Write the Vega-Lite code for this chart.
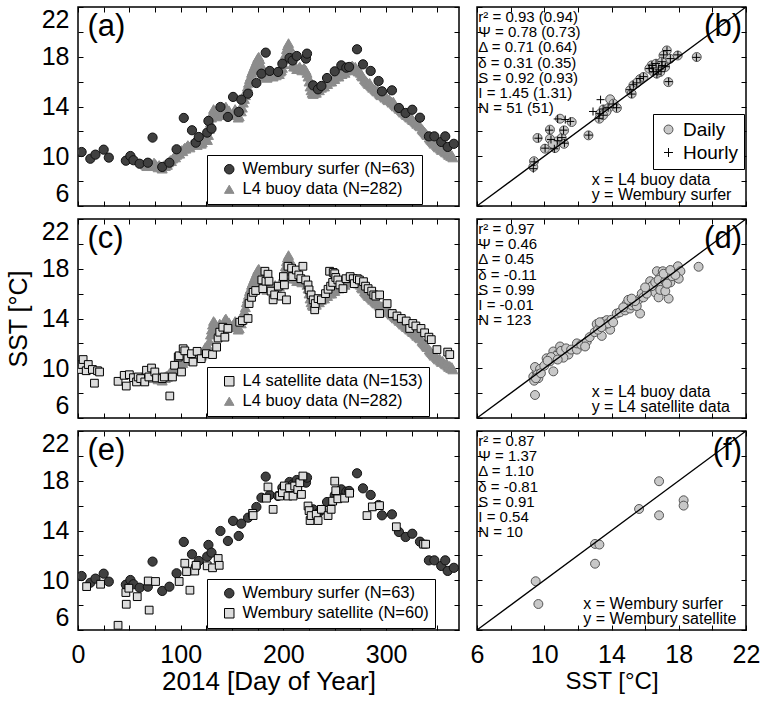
{
"$schema":"https://vega.github.io/schema/vega-lite/v6.json",
"padding":{"left":5,"top":5,"right":0,"bottom":0},
"config":{
 "font":"Liberation Sans",
 "view":{"stroke":"black","strokeWidth":1.5},
 "axis":{"domain":false,"grid":false,"labelFont":"Liberation Sans","labelFontSize":25,"labelColor":"black","titleFont":"Liberation Sans","titleFontSize":24,"titleFontWeight":"normal","titleColor":"black","tickColor":"black","tickWidth":1,"tickSize":-5,"labelOverlap":false,"labelFlush":false,"labelBound":false,"minExtent":0},
 "axisX":{"minExtent":0,"labelFlush":false},"axisY":{"minExtent":0,"labelFlush":true},
 "legend":{"labelFont":"Liberation Sans","labelColor":"black","strokeColor":"black","fillColor":"white","symbolStrokeWidth":1,"labelLimit":400}
},
"datasets":{
"buoy":[{"d":65,"t":9.4},{"d":66,"t":9.3},{"d":67,"t":9.2},{"d":68,"t":9.4},{"d":69,"t":9.5},{"d":70,"t":9.3},{"d":71,"t":9.4},{"d":72,"t":9.2},{"d":73,"t":9.3},{"d":74,"t":9.5},{"d":75,"t":9.4},{"d":76,"t":9.3},{"d":77,"t":9.2},{"d":78,"t":9.1},{"d":79,"t":9.3},{"d":80,"t":9.2},{"d":81,"t":9.1},{"d":82,"t":9.0},{"d":83,"t":9.2},{"d":84,"t":9.3},{"d":85,"t":9.2},{"d":86,"t":9.4},{"d":87,"t":9.3},{"d":88,"t":9.5},{"d":89,"t":9.6},{"d":90,"t":9.7},{"d":91,"t":9.6},{"d":92,"t":9.8},{"d":93,"t":9.9},{"d":94,"t":10.0},{"d":95,"t":9.9},{"d":96,"t":10.1},{"d":97,"t":10.2},{"d":98,"t":10.3},{"d":99,"t":10.2},
{"d":101,"t":10.5},{"d":102,"t":10.4},{"d":103,"t":10.6},{"d":104,"t":10.7},{"d":105,"t":10.6},{"d":106,"t":10.8},{"d":107,"t":10.9},{"d":108,"t":10.8},{"d":109,"t":10.7},{"d":110,"t":10.9},{"d":111,"t":11.0},
{"d":113,"t":11.1},{"d":114,"t":11.2},{"d":115,"t":11.0},{"d":116,"t":10.9},{"d":117,"t":11.1},{"d":118,"t":11.3},{"d":119,"t":11.2},{"d":120,"t":11.0},{"d":121,"t":11.1},{"d":122,"t":11.3},{"d":123,"t":11.5},{"d":124,"t":11.7},{"d":125,"t":11.4},{"d":126,"t":11.3},{"d":127,"t":11.7},{"d":128,"t":12.2},{"d":129,"t":12.7},{"d":130,"t":13.1},{"d":131,"t":13.5},{"d":132,"t":13.8},{"d":133,"t":13.7},{"d":134,"t":13.4},{"d":135,"t":13.2},{"d":136,"t":13.3},
{"d":138,"t":13.6},{"d":139,"t":13.4},{"d":140,"t":13.3},{"d":141,"t":13.5},{"d":142,"t":13.7},{"d":143,"t":13.9},{"d":144,"t":14.0},{"d":145,"t":13.8},{"d":146,"t":13.6},{"d":147,"t":13.7},{"d":148,"t":13.5},
{"d":150,"t":13.3},{"d":151,"t":13.4},{"d":152,"t":13.6},{"d":153,"t":13.8},{"d":154,"t":13.5},{"d":155,"t":13.3},{"d":156,"t":13.1},{"d":157,"t":13.2},
{"d":159,"t":13.6},{"d":160,"t":13.9},{"d":161,"t":14.3},{"d":162,"t":14.6},{"d":163,"t":14.9},{"d":164,"t":15.3},{"d":165,"t":15.6},{"d":166,"t":15.9},{"d":167,"t":16.2},{"d":168,"t":16.4},{"d":169,"t":16.7},{"d":170,"t":16.9},{"d":171,"t":17.1},{"d":172,"t":17.3},{"d":173,"t":17.5},{"d":174,"t":17.7},{"d":175,"t":17.9},{"d":176,"t":18.0},{"d":177,"t":17.8},{"d":178,"t":17.4},{"d":179,"t":17.0},{"d":180,"t":16.7},{"d":181,"t":16.5},{"d":182,"t":16.4},{"d":183,"t":16.5},{"d":184,"t":16.3},{"d":185,"t":16.4},{"d":186,"t":16.5},{"d":187,"t":16.6},{"d":188,"t":16.5},
{"d":190,"t":16.4},{"d":191,"t":16.6},{"d":192,"t":16.7},{"d":193,"t":16.5},{"d":194,"t":16.6},
{"d":196,"t":16.6},{"d":197,"t":16.8},{"d":198,"t":16.9},{"d":199,"t":17.1},{"d":200,"t":17.4},{"d":201,"t":17.8},{"d":202,"t":18.2},{"d":203,"t":18.6},{"d":204,"t":18.9},{"d":205,"t":19.1},{"d":206,"t":18.8},{"d":207,"t":18.3},{"d":208,"t":17.8},{"d":209,"t":17.4},{"d":210,"t":17.2},{"d":211,"t":17.3},{"d":212,"t":17.2},{"d":213,"t":17.0},
{"d":215,"t":17.1},{"d":216,"t":17.2},{"d":217,"t":17.0},{"d":218,"t":16.9},{"d":219,"t":17.0},{"d":220,"t":17.1},{"d":221,"t":17.0},{"d":222,"t":16.9},{"d":223,"t":16.7},{"d":224,"t":16.4},{"d":225,"t":16.0},{"d":226,"t":15.6},{"d":227,"t":15.3},{"d":228,"t":15.1},{"d":229,"t":15.0},{"d":230,"t":15.1},{"d":231,"t":15.2},{"d":232,"t":15.1},{"d":233,"t":15.3},{"d":234,"t":15.4},{"d":235,"t":15.3},
{"d":237,"t":15.5},{"d":238,"t":15.6},{"d":239,"t":15.7},{"d":240,"t":15.6},{"d":241,"t":15.8},{"d":242,"t":15.9},{"d":243,"t":15.8},
{"d":245,"t":16.0},{"d":246,"t":16.1},{"d":247,"t":16.0},{"d":248,"t":16.2},{"d":249,"t":16.3},{"d":250,"t":16.2},{"d":251,"t":16.4},
{"d":253,"t":16.5},{"d":254,"t":16.4},{"d":255,"t":16.6},{"d":256,"t":16.7},{"d":257,"t":16.6},{"d":258,"t":16.8},
{"d":260,"t":16.7},{"d":261,"t":16.9},{"d":262,"t":17.0},{"d":263,"t":16.9},{"d":264,"t":17.1},{"d":265,"t":17.2},{"d":266,"t":17.1},{"d":267,"t":17.3},{"d":268,"t":17.2},{"d":269,"t":17.1},{"d":270,"t":17.2},{"d":271,"t":17.0},{"d":272,"t":16.9},{"d":273,"t":16.8},{"d":274,"t":16.9},{"d":275,"t":16.7},{"d":276,"t":16.5},{"d":277,"t":16.4},
{"d":279,"t":16.2},{"d":280,"t":16.1},{"d":281,"t":16.0},{"d":282,"t":15.9},{"d":283,"t":15.8},{"d":284,"t":15.9},{"d":285,"t":15.7},{"d":286,"t":15.6},{"d":287,"t":15.5},
{"d":289,"t":15.4},{"d":290,"t":15.3},{"d":291,"t":15.2},{"d":292,"t":15.3},{"d":293,"t":15.1},{"d":294,"t":15.0},{"d":295,"t":14.9},{"d":296,"t":15.0},
{"d":298,"t":14.8},{"d":299,"t":14.7},{"d":300,"t":14.8},{"d":301,"t":14.6},{"d":302,"t":14.5},{"d":303,"t":14.6},
{"d":305,"t":14.4},{"d":306,"t":14.3},{"d":307,"t":14.4},{"d":308,"t":14.2},{"d":309,"t":14.1},{"d":310,"t":14.0},
{"d":312,"t":13.9},{"d":313,"t":13.8},{"d":314,"t":13.9},{"d":315,"t":13.7},{"d":316,"t":13.6},{"d":317,"t":13.5},
{"d":319,"t":13.4},{"d":320,"t":13.3},{"d":321,"t":13.4},{"d":322,"t":13.2},{"d":323,"t":13.1},{"d":324,"t":13.2},{"d":325,"t":13.0},{"d":326,"t":12.9},
{"d":328,"t":12.8},{"d":329,"t":12.7},{"d":330,"t":12.6},{"d":331,"t":12.7},{"d":332,"t":12.5},{"d":333,"t":12.4},
{"d":335,"t":12.2},{"d":336,"t":12.1},{"d":337,"t":12.0},{"d":338,"t":11.9},{"d":339,"t":11.8},{"d":340,"t":11.7},
{"d":342,"t":11.5},{"d":343,"t":11.4},{"d":344,"t":11.3},{"d":345,"t":11.2},{"d":346,"t":11.1},{"d":347,"t":11.0},
{"d":349,"t":10.9},{"d":350,"t":10.8},{"d":351,"t":10.7},{"d":352,"t":10.8},{"d":353,"t":10.6},{"d":354,"t":10.5},{"d":355,"t":10.6},
{"d":357,"t":10.4},{"d":358,"t":10.3},{"d":359,"t":10.4},{"d":360,"t":10.2},{"d":361,"t":10.1},{"d":362,"t":10.2},{"d":363,"t":10.0},{"d":364,"t":10.1},{"d":365,"t":9.9}],
"surfer":[{"d":3.5,"t":10.34},{"d":12,"t":9.8},{"d":17,"t":10.13},{"d":25,"t":10.53},{"d":30,"t":9.89},{"d":46.6,"t":9.64},{"d":51,"t":10.02},{"d":54,"t":9.68},{"d":60,"t":9.4},{"d":68,"t":9.48},{"d":72.6,"t":11.5},{"d":82,"t":9.14},{"d":89,"t":9.48},{"d":96,"t":10.56},{"d":103,"t":13.08},{"d":111,"t":12.09},{"d":114.7,"t":11.09},{"d":117.6,"t":11.55},{"d":125.8,"t":11.9},{"d":127,"t":12.84},{"d":130,"t":12.22},{"d":138.7,"t":13.96},{"d":146,"t":13.16},{"d":151,"t":14.77},{"d":156.5,"t":13.56},{"d":159,"t":14.55},{"d":165.6,"t":15.03},{"d":173.7,"t":15.89},{"d":178.6,"t":16.64},{"d":182.8,"t":18.33},{"d":186.7,"t":16.86},{"d":194.8,"t":16.78},{"d":199,"t":17.44},{"d":206,"t":17.9},{"d":209,"t":17.7},{"d":213,"t":18.06},{"d":222,"t":17.85},{"d":223,"t":18.25},{"d":229,"t":15.7},{"d":233.7,"t":15.38},{"d":237,"t":15.65},{"d":242.5,"t":16.29},{"d":250,"t":16.83},{"d":256.4,"t":17.31},{"d":261.3,"t":17.12},{"d":264,"t":17.18},{"d":271.7,"t":18.6},{"d":277.5,"t":17.39},{"d":285,"t":16.86},{"d":292.7,"t":16.05},{"d":296,"t":15.22},{"d":305.7,"t":15.3},{"d":312.5,"t":13.88},{"d":319,"t":13.48},{"d":325.5,"t":13.74},{"d":333,"t":13.1},{"d":341.7,"t":11.6},{"d":347,"t":11.6},{"d":353.7,"t":11.15},{"d":357.6,"t":11.6},{"d":360,"t":10.75},{"d":366,"t":11.0}],
"l4sat":[{"d":1,"t":9.9},{"d":4,"t":10.3},{"d":5,"t":10.7},{"d":8,"t":9.8},{"d":10,"t":10.3},{"d":14,"t":9.9},{"d":16,"t":8.8},{"d":19,"t":9.8},{"d":21,"t":9.7},{"d":39,"t":8.95},{"d":45,"t":9.43},{"d":47,"t":8.57},{"d":50,"t":9.48},{"d":54,"t":9.24},{"d":57,"t":8.9},{"d":58.6,"t":9.3},{"d":61,"t":9.17},{"d":65,"t":8.9},{"d":66.7,"t":9.84},{"d":69,"t":9.3},{"d":71.6,"t":10.02},{"d":74.8,"t":9.7},{"d":76.5,"t":9.22},{"d":82,"t":9.17},{"d":84,"t":9.3},{"d":89.4,"t":7.77},{"d":92,"t":9.3},{"d":94,"t":10.24},{"d":97.6,"t":10.9},{"d":98.5,"t":11.0},{"d":100.8,"t":9.7},{"d":102.4,"t":11.57},{"d":104,"t":11.4},{"d":107,"t":10.77},{"d":110.5,"t":11.17},{"d":112,"t":10.5},{"d":116,"t":11.36},{"d":120,"t":10.77},{"d":125,"t":11.17},{"d":131,"t":11.1},{"d":135,"t":11.7},{"d":136.4,"t":12.43},{"d":138,"t":12.9},{"d":141,"t":13.3},{"d":143,"t":12.5},{"d":146,"t":13.2},{"d":157.5,"t":13.7},{"d":160,"t":13.83},{"d":165.6,"t":14.0},{"d":166.6,"t":15.2},{"d":169,"t":15.7},{"d":170.5,"t":16.1},{"d":173,"t":16.25},{"d":180,"t":16.4},{"d":179,"t":17.1},{"d":182,"t":17.8},{"d":183,"t":17.0},{"d":185,"t":17.56},{"d":186,"t":17.0},{"d":188,"t":16.2},{"d":190,"t":15.5},{"d":191.5,"t":15.9},{"d":195,"t":16.6},{"d":198,"t":15.8},{"d":200,"t":17.37},{"d":201,"t":16.7},{"d":203,"t":15.5},{"d":204.5,"t":18.2},{"d":208,"t":18.05},{"d":209,"t":17.37},{"d":212.6,"t":17.9},{"d":215,"t":17.5},{"d":217,"t":17.2},{"d":219,"t":18.2},{"d":221.7,"t":17.1},{"d":224,"t":16.7},{"d":225,"t":16.3},{"d":227,"t":15.9},{"d":229,"t":15.5},{"d":230.5,"t":14.7},{"d":231,"t":15.2},{"d":233.8,"t":15.6},{"d":237,"t":15.5},{"d":241,"t":16.0},{"d":243.5,"t":16.35},{"d":245,"t":17.8},{"d":246,"t":16.6},{"d":248,"t":16.9},{"d":248.5,"t":17.7},{"d":250,"t":17.6},{"d":251,"t":17.3},{"d":253,"t":17.1},{"d":255,"t":16.7},{"d":258,"t":16.4},{"d":261,"t":17.2},{"d":265,"t":17.37},{"d":268,"t":17.2},{"d":269,"t":16.8},{"d":272,"t":17.2},{"d":274,"t":17.1},{"d":278,"t":16.96},{"d":280,"t":16.6},{"d":282.5,"t":16.4},{"d":286,"t":16.2},{"d":288,"t":15.9},{"d":290,"t":15.8},{"d":293.7,"t":15.9},{"d":293.7,"t":14.4},{"d":301,"t":15.2},{"d":306,"t":14.4},{"d":310.6,"t":14.2},{"d":314.8,"t":14.0},{"d":319.6,"t":13.8},{"d":323,"t":13.2},{"d":326,"t":13.6},{"d":329,"t":13.4},{"d":334,"t":13.2},{"d":337.5,"t":12.85},{"d":341.7,"t":12.5},{"d":344,"t":12.3},{"d":349.5,"t":11.5},{"d":360,"t":11.3},{"d":362,"t":11.1}],
"wsat":[{"d":8.4,"t":9.49},{"d":22,"t":9.68},{"d":39,"t":6.38},{"d":46.6,"t":9.01},{"d":47,"t":8.07},{"d":49.5,"t":9.36},{"d":57.7,"t":8.68},{"d":68.4,"t":9.94},{"d":69.3,"t":7.6},{"d":75.5,"t":9.9},{"d":98.5,"t":9.9},{"d":104,"t":11.37},{"d":105.7,"t":10.7},{"d":109,"t":9.2},{"d":113.7,"t":10.74},{"d":115,"t":11.2},{"d":125.8,"t":11.16},{"d":131,"t":11.0},{"d":136.5,"t":11.75},{"d":137.5,"t":11.2},{"d":170,"t":15.38},{"d":170.5,"t":15.2},{"d":183.5,"t":16.6},{"d":185,"t":17.5},{"d":190,"t":15.7},{"d":196.4,"t":16.77},{"d":199,"t":17.04},{"d":201,"t":17.58},{"d":204.5,"t":16.77},{"d":206,"t":17.44},{"d":209.4,"t":16.77},{"d":211,"t":17.58},{"d":214,"t":17.3},{"d":216,"t":17.84},{"d":217.6,"t":16.9},{"d":219,"t":18.38},{"d":224,"t":15.97},{"d":225,"t":15.6},{"d":226,"t":14.8},{"d":227,"t":15.2},{"d":232,"t":15.3},{"d":233.8,"t":14.8},{"d":237,"t":15.7},{"d":243.5,"t":15.2},{"d":246.5,"t":15.7},{"d":248,"t":16.36},{"d":250,"t":17.97},{"d":251,"t":17.2},{"d":253,"t":16.55},{"d":259.6,"t":16.6},{"d":264.5,"t":17.0},{"d":281.4,"t":15.2},{"d":286.6,"t":15.9},{"d":293.6,"t":16.0},{"d":310,"t":14.3},{"d":336.5,"t":12.9},{"d":338.5,"t":12.9}],
"bday":[{"x":9.35,"y":9.14},{"x":9.39,"y":9.6},{"x":9.6,"y":11.47},{"x":10.34,"y":12.14},{"x":10.04,"y":10.61},{"x":10.64,"y":10.66},{"x":10.78,"y":11.2},{"x":11.04,"y":11.47},{"x":11.18,"y":12.08},{"x":10.94,"y":13.02},{"x":11.63,"y":12.75},{"x":11.18,"y":11.0},{"x":10.34,"y":11.4},{"x":10.5,"y":11.0},{"x":12.63,"y":11.68},{"x":13.32,"y":13.42},{"x":13.52,"y":13.77},{"x":13.92,"y":14.58},{"x":14.32,"y":13.88},{"x":13.82,"y":13.88},{"x":14.12,"y":14.23},{"x":13.28,"y":13.02},{"x":13.7,"y":13.6},{"x":15.1,"y":15.3},{"x":15.3,"y":15.7},{"x":15.2,"y":15.03},{"x":15.7,"y":16.2},{"x":15.9,"y":16.37},{"x":16.39,"y":17.31},{"x":16.5,"y":16.78},{"x":16.8,"y":16.9},{"x":16.99,"y":17.31},{"x":16.69,"y":16.64},{"x":17.19,"y":17.17},{"x":17.29,"y":18.51},{"x":17.09,"y":18.1},{"x":17.48,"y":17.84},{"x":17.38,"y":15.96},{"x":17.94,"y":18.1},{"x":19.07,"y":17.98},{"x":16.65,"y":17.44},{"x":16.25,"y":17.04},{"x":16.9,"y":16.78},{"x":16.45,"y":17.1},{"x":17.0,"y":17.6},{"x":13.5,"y":13.3},{"x":15.5,"y":15.9}],
"bhour":[{"x":9.35,"y":9.0},{"x":9.4,"y":9.55},{"x":9.65,"y":11.45},{"x":10.3,"y":12.1},{"x":10.05,"y":10.65},{"x":10.6,"y":10.6},{"x":10.8,"y":11.25},{"x":11.05,"y":11.5},{"x":11.15,"y":12.1},{"x":11.25,"y":12.95},{"x":11.55,"y":12.8},{"x":11.2,"y":11.05},{"x":10.4,"y":11.35},{"x":12.65,"y":11.7},{"x":13.3,"y":13.45},{"x":13.5,"y":13.8},{"x":13.35,"y":14.55},{"x":14.3,"y":13.9},{"x":13.8,"y":13.9},{"x":14.1,"y":14.2},{"x":13.25,"y":13.05},{"x":15.1,"y":15.35},{"x":15.3,"y":15.75},{"x":15.2,"y":15.0},{"x":15.7,"y":16.25},{"x":15.9,"y":16.4},{"x":16.4,"y":17.3},{"x":16.5,"y":16.8},{"x":16.8,"y":16.95},{"x":17.0,"y":17.3},{"x":16.7,"y":16.6},{"x":17.2,"y":17.2},{"x":17.3,"y":18.5},{"x":17.1,"y":18.15},{"x":17.5,"y":17.85},{"x":17.4,"y":16.0},{"x":17.95,"y":18.15},{"x":19.05,"y":17.95},{"x":16.65,"y":17.45},{"x":16.25,"y":17.05},{"x":16.95,"y":16.8},{"x":16.45,"y":17.1},{"x":17.0,"y":17.6},{"x":13.5,"y":13.3},{"x":15.5,"y":15.9},{"x":10.8,"y":13.0},{"x":12.9,"y":13.6}],
"dpts":[{"x":9.45,"y":7.85},{"x":9.35,"y":9.33},{"x":9.65,"y":9.2},{"x":9.55,"y":9.75},{"x":9.45,"y":10.1},{"x":9.75,"y":9.95},{"x":9.4,"y":9.0},{"x":9.6,"y":9.5},{"x":9.5,"y":9.2},{"x":9.8,"y":9.6},{"x":10.0,"y":10.2},{"x":10.14,"y":10.8},{"x":10.34,"y":10.55},{"x":10.54,"y":9.75},{"x":10.54,"y":11.35},{"x":10.84,"y":11.2},{"x":10.94,"y":11.75},{"x":11.24,"y":11.35},{"x":11.44,"y":11.1},{"x":11.14,"y":10.85},{"x":10.7,"y":11.0},{"x":10.4,"y":10.9},{"x":10.2,"y":10.6},{"x":11.0,"y":11.4},{"x":10.8,"y":10.7},{"x":11.3,"y":11.6},{"x":11.6,"y":11.5},
{"x":11.94,"y":11.5},{"x":11.94,"y":12.0},{"x":12.2,"y":11.9},{"x":12.53,"y":12.15},{"x":12.43,"y":11.75},{"x":12.7,"y":12.5},{"x":13.0,"y":12.9},{"x":13.12,"y":13.55},{"x":13.32,"y":13.34},{"x":13.52,"y":13.73},{"x":13.72,"y":13.87},{"x":13.42,"y":12.6},{"x":13.92,"y":13.1},{"x":13.2,"y":13.1},{"x":13.6,"y":13.5},{"x":13.8,"y":13.6},{"x":13.4,"y":13.3},{"x":14.0,"y":13.9},{"x":13.3,"y":13.7},
{"x":14.1,"y":13.7},{"x":14.31,"y":14.4},{"x":14.5,"y":14.5},{"x":14.81,"y":14.65},{"x":14.9,"y":15.2},{"x":15.1,"y":14.8},{"x":15.21,"y":15.06},{"x":15.3,"y":15.3},{"x":15.6,"y":15.5},{"x":15.7,"y":14.4},{"x":15.8,"y":16.0},{"x":15.9,"y":15.7},{"x":15.5,"y":15.0},{"x":15.4,"y":15.4},{"x":14.7,"y":14.9},{"x":15.0,"y":15.5},{"x":15.2,"y":15.6},
{"x":16.2,"y":16.4},{"x":16.3,"y":17.0},{"x":16.5,"y":16.7},{"x":16.6,"y":16.1},{"x":16.7,"y":17.8},{"x":16.8,"y":15.7},{"x":16.9,"y":17.3},{"x":17.05,"y":17.8},{"x":17.3,"y":17.4},{"x":17.5,"y":16.9},{"x":17.4,"y":15.6},{"x":17.7,"y":17.8},{"x":17.95,"y":18.2},{"x":18.1,"y":17.8},{"x":18.0,"y":17.2},{"x":19.18,"y":18.16},{"x":16.4,"y":16.6},{"x":16.6,"y":16.9},{"x":16.8,"y":17.1},{"x":17.0,"y":16.6},{"x":17.2,"y":17.0},{"x":17.1,"y":17.6},{"x":17.6,"y":17.4},{"x":16.9,"y":16.3},{"x":17.2,"y":16.2},{"x":17.8,"y":17.5},{"x":16.1,"y":16.0},{"x":16.0,"y":16.5},{"x":17.5,"y":17.9},{"x":17.3,"y":16.8}],
"fpts":[{"x":9.49,"y":9.92},{"x":9.65,"y":8.09},{"x":13.02,"y":12.92},{"x":13.28,"y":12.87},{"x":13.02,"y":11.33},{"x":15.64,"y":15.73},{"x":16.83,"y":17.96},{"x":16.83,"y":15.22},{"x":18.29,"y":16.43},{"x":18.29,"y":16.0}]
},
"columns":2,
"spacing":{"row":9,"column":8},
"resolve":{"scale":{"x":"independent","y":"independent","fill":"independent","stroke":"independent","shape":"independent"}},
"concat":[
{"width":381,"height":199,
 "resolve":{"axis":{"x":"independent","y":"independent"}},
 "layer":[
  {"data":{"name":"buoy"},
   "mark":{"type":"point","filled":true,"size":100,"opacity":1,"strokeWidth":1,"clip":true},
   "encoding":{
    "x":{"field":"d","type":"quantitative","scale":{"domain":[0,371],"nice":false,"zero":false},"axis":{"orient":"bottom","values":[0,25,50,75,100,125,150,175,200,225,250,275,300,325,350],"labels":false,"title":null}},
    "y":{"field":"t","type":"quantitative","scale":{"domain":[6,22],"nice":false,"zero":false},"axis":{"orient":"left","values":[6,8,10,12,14,16,18,20,22],"labelPadding":14,"labelExpr":"datum.value % 4 == 2 ? datum.label : ''","title":null}},
    "fill":{"datum":"L4 buoy data (N=282)","type":"nominal","scale":{"domain":["Wembury surfer (N=63)","L4 buoy data (N=282)"],"range":["#404040","#8c8c8c"]},"legend":{"orient":"none","legendX":129,"legendY":148,"title":null,"labelFontSize":16.5,"padding":6,"symbolSize":90,"rowPadding":3,"labelOffset":5,"symbolOffset":8}},
    "stroke":{"datum":"L4 buoy data (N=282)","type":"nominal","scale":{"domain":["Wembury surfer (N=63)","L4 buoy data (N=282)"],"range":["#111111","#8c8c8c"]},"legend":{"orient":"none","legendX":129,"legendY":148,"title":null,"labelFontSize":16.5,"padding":6,"symbolSize":90,"rowPadding":3,"labelOffset":5,"symbolOffset":8}},
    "shape":{"datum":"L4 buoy data (N=282)","type":"nominal","scale":{"domain":["Wembury surfer (N=63)","L4 buoy data (N=282)"],"range":["circle","triangle-up"]},"legend":{"orient":"none","legendX":129,"legendY":148,"title":null,"labelFontSize":16.5,"padding":6,"symbolSize":90,"rowPadding":3,"labelOffset":5,"symbolOffset":8}}
   }},
  {"data":{"name":"surfer"},
   "mark":{"type":"point","filled":true,"size":85,"opacity":1,"strokeWidth":1,"clip":true},
   "encoding":{
    "x":{"field":"d","type":"quantitative","axis":{"orient":"top","values":[0,25,50,75,100,125,150,175,200,225,250,275,300,325,350],"labels":false,"title":null}},
    "y":{"field":"t","type":"quantitative","axis":{"orient":"right","values":[6,8,10,12,14,16,18,20,22],"labels":false,"title":null}},
    "fill":{"datum":"Wembury surfer (N=63)","type":"nominal"},
    "stroke":{"datum":"Wembury surfer (N=63)","type":"nominal"},
    "shape":{"datum":"Wembury surfer (N=63)","type":"nominal"}
   }},
  {"data":{"values":[{}]},
   "mark":{"type":"text","text":"(a)","fontSize":31,"align":"left","baseline":"alphabetic","color":"black"},
   "encoding":{"x":{"datum":9.3,"type":"quantitative","axis":null},"y":{"datum":19.7,"type":"quantitative","axis":null}}}
 ]},
{"width":269,"height":199,
 "resolve":{"axis":{"x":"independent","y":"independent"}},
 "layer":[
  {"data":{"name":"bday"},
   "mark":{"type":"point","filled":true,"size":80,"opacity":1,"strokeWidth":1,"clip":true},
   "encoding":{
    "x":{"field":"x","type":"quantitative","scale":{"domain":[6,22],"nice":false,"zero":false},"axis":{"orient":"bottom","values":[6,8,10,12,14,16,18,20,22],"labels":false,"title":null}},
    "y":{"field":"y","type":"quantitative","scale":{"domain":[6,22],"nice":false,"zero":false},"axis":{"orient":"left","values":[6,8,10,12,14,16,18,20,22],"labels":false,"title":null}},
    "fill":{"datum":"Daily","type":"nominal","scale":{"domain":["Daily","Hourly"],"range":["#c8c8c8","transparent"]},"legend":{"orient":"none","legendX":176,"legendY":107,"title":null,"labelFontSize":19,"padding":6,"symbolSize":80,"rowPadding":3,"labelOffset":5}},
    "stroke":{"datum":"Daily","type":"nominal","scale":{"domain":["Daily","Hourly"],"range":["#555555","#000000"]},"legend":{"orient":"none","legendX":176,"legendY":107,"title":null,"labelFontSize":19,"padding":6,"symbolSize":80,"rowPadding":3,"labelOffset":5}},
    "shape":{"datum":"Daily","type":"nominal","scale":{"domain":["Daily","Hourly"],"range":["circle","M-1,0L1,0M0,-1L0,1"]},"legend":{"orient":"none","legendX":176,"legendY":107,"title":null,"labelFontSize":19,"padding":6,"symbolSize":80,"rowPadding":3,"labelOffset":5}}
   }},
  {"data":{"values":[{}]},
   "mark":{"type":"rule","color":"black","strokeWidth":1.3},
   "encoding":{"x":{"datum":6,"type":"quantitative","axis":null},"y":{"datum":6,"type":"quantitative","axis":null},"x2":{"datum":22},"y2":{"datum":22}}},
  {"data":{"name":"bhour"},
   "mark":{"type":"point","filled":false,"size":64,"opacity":1,"strokeWidth":1,"clip":true},
   "encoding":{
    "x":{"field":"x","type":"quantitative","axis":{"orient":"top","values":[6,8,10,12,14,16,18,20,22],"labels":false,"title":null}},
    "y":{"field":"y","type":"quantitative","axis":{"orient":"right","values":[6,8,10,12,14,16,18,20,22],"labels":false,"title":null}},
    "fill":{"datum":"Hourly","type":"nominal"},
    "stroke":{"datum":"Hourly","type":"nominal"},
    "shape":{"datum":"Hourly","type":"nominal"}
   }},
  {"data":{"values":[{}]},
   "mark":{"type":"text","text":["r² = 0.93 (0.94)","Ψ = 0.78 (0.73)","Δ = 0.71 (0.64)","δ = 0.31 (0.35)","S = 0.92 (0.93)","I = 1.45 (1.31)","N = 51 (51)"],"fontSize":15,"lineHeight":15.2,"align":"left","baseline":"alphabetic","color":"black"},
   "encoding":{"x":{"datum":6.08,"type":"quantitative","axis":null},"y":{"datum":20.8,"type":"quantitative","axis":null}}},
  {"data":{"values":[{}]},
   "mark":{"type":"text","text":"(b)","fontSize":31,"align":"right","baseline":"alphabetic","color":"black"},
   "encoding":{"x":{"datum":21.76,"type":"quantitative","axis":null},"y":{"datum":19.7,"type":"quantitative","axis":null}}},
  {"data":{"values":[{}]},
   "mark":{"type":"text","text":["x = L4 buoy data","y = Wembury surfer"],"fontSize":16,"lineHeight":15,"align":"left","baseline":"alphabetic","color":"black"},
   "encoding":{"x":{"datum":12.82,"type":"quantitative","axis":null},"y":{"datum":7.69,"type":"quantitative","axis":null}}}
 ]},
{"width":381,"height":199,
 "resolve":{"axis":{"x":"independent","y":"independent"}},
 "layer":[
  {"data":{"name":"buoy"},
   "mark":{"type":"point","filled":true,"size":100,"opacity":1,"strokeWidth":1,"clip":true},
   "encoding":{
    "x":{"field":"d","type":"quantitative","scale":{"domain":[0,371],"nice":false,"zero":false},"axis":{"orient":"bottom","values":[0,25,50,75,100,125,150,175,200,225,250,275,300,325,350],"labels":false,"title":null}},
    "y":{"field":"t","type":"quantitative","scale":{"domain":[6,22],"nice":false,"zero":false},"axis":{"orient":"left","values":[6,8,10,12,14,16,18,20,22],"labelPadding":14,"labelExpr":"datum.value % 4 == 2 ? datum.label : ''","title":"SST [°C]","titleFontSize":25,"titlePadding":10}},
    "fill":{"datum":"L4 buoy data (N=282)","type":"nominal","scale":{"domain":["L4 satellite data (N=153)","L4 buoy data (N=282)"],"range":["#dcdcdc","#8c8c8c"]},"legend":{"orient":"none","legendX":129,"legendY":148,"title":null,"labelFontSize":16.5,"padding":6,"symbolSize":90,"rowPadding":3,"labelOffset":5,"symbolOffset":8}},
    "stroke":{"datum":"L4 buoy data (N=282)","type":"nominal","scale":{"domain":["L4 satellite data (N=153)","L4 buoy data (N=282)"],"range":["#000000","#8c8c8c"]},"legend":{"orient":"none","legendX":129,"legendY":148,"title":null,"labelFontSize":16.5,"padding":6,"symbolSize":90,"rowPadding":3,"labelOffset":5,"symbolOffset":8}},
    "shape":{"datum":"L4 buoy data (N=282)","type":"nominal","scale":{"domain":["L4 satellite data (N=153)","L4 buoy data (N=282)"],"range":["square","triangle-up"]},"legend":{"orient":"none","legendX":129,"legendY":148,"title":null,"labelFontSize":16.5,"padding":6,"symbolSize":90,"rowPadding":3,"labelOffset":5,"symbolOffset":8}}
   }},
  {"data":{"name":"l4sat"},
   "mark":{"type":"point","filled":true,"size":60,"opacity":1,"strokeWidth":1,"clip":true},
   "encoding":{
    "x":{"field":"d","type":"quantitative","axis":{"orient":"top","values":[0,25,50,75,100,125,150,175,200,225,250,275,300,325,350],"labels":false,"title":null}},
    "y":{"field":"t","type":"quantitative","axis":{"orient":"right","values":[6,8,10,12,14,16,18,20,22],"labels":false,"title":null}},
    "fill":{"datum":"L4 satellite data (N=153)","type":"nominal"},
    "stroke":{"datum":"L4 satellite data (N=153)","type":"nominal"},
    "shape":{"datum":"L4 satellite data (N=153)","type":"nominal"}
   }},
  {"data":{"values":[{}]},
   "mark":{"type":"text","text":"(c)","fontSize":31,"align":"left","baseline":"alphabetic","color":"black"},
   "encoding":{"x":{"datum":9.3,"type":"quantitative","axis":null},"y":{"datum":19.7,"type":"quantitative","axis":null}}}
 ]},
{"width":269,"height":199,
 "resolve":{"axis":{"x":"independent","y":"independent"}},
 "layer":[
  {"data":{"name":"dpts"},
   "mark":{"type":"point","filled":true,"size":80,"opacity":1,"strokeWidth":1,"fill":"#c8c8c8","stroke":"#555555","clip":true},
   "encoding":{
    "x":{"field":"x","type":"quantitative","scale":{"domain":[6,22],"nice":false,"zero":false},"axis":{"orient":"bottom","values":[6,8,10,12,14,16,18,20,22],"labels":false,"title":null}},
    "y":{"field":"y","type":"quantitative","scale":{"domain":[6,22],"nice":false,"zero":false},"axis":{"orient":"left","values":[6,8,10,12,14,16,18,20,22],"labels":false,"title":null}}
   }},
  {"data":{"values":[{}]},
   "mark":{"type":"rule","color":"black","strokeWidth":1.3},
   "encoding":{"x":{"datum":6,"type":"quantitative","axis":{"orient":"top","values":[6,8,10,12,14,16,18,20,22],"labels":false,"title":null}},"y":{"datum":6,"type":"quantitative","axis":{"orient":"right","values":[6,8,10,12,14,16,18,20,22],"labels":false,"title":null}},"x2":{"datum":22},"y2":{"datum":22}}},
  {"data":{"values":[{}]},
   "mark":{"type":"text","text":["r² = 0.97","Ψ = 0.46","Δ = 0.45","δ = -0.11","S = 0.99","I = -0.01","N = 123"],"fontSize":15,"lineHeight":15.2,"align":"left","baseline":"alphabetic","color":"black"},
   "encoding":{"x":{"datum":6.08,"type":"quantitative","axis":null},"y":{"datum":20.8,"type":"quantitative","axis":null}}},
  {"data":{"values":[{}]},
   "mark":{"type":"text","text":"(d)","fontSize":31,"align":"right","baseline":"alphabetic","color":"black"},
   "encoding":{"x":{"datum":21.76,"type":"quantitative","axis":null},"y":{"datum":19.7,"type":"quantitative","axis":null}}},
  {"data":{"values":[{}]},
   "mark":{"type":"text","text":["x = L4 buoy data","y = L4 satellite data"],"fontSize":16,"lineHeight":15,"align":"left","baseline":"alphabetic","color":"black"},
   "encoding":{"x":{"datum":12.82,"type":"quantitative","axis":null},"y":{"datum":7.69,"type":"quantitative","axis":null}}}
 ]},
{"width":381,"height":199,
 "resolve":{"axis":{"x":"independent","y":"independent"}},
 "layer":[
  {"data":{"name":"surfer"},
   "mark":{"type":"point","filled":true,"size":85,"opacity":1,"strokeWidth":1,"clip":true},
   "encoding":{
    "x":{"field":"d","type":"quantitative","scale":{"domain":[0,371],"nice":false,"zero":false},"axis":{"orient":"bottom","values":[0,25,50,75,100,125,150,175,200,225,250,275,300,325,350],"labelPadding":17,"labelExpr":"datum.value % 100 == 0 ? datum.label : ''","title":"2014 [Day of Year]","titleFontSize":26,"titlePadding":1}},
    "y":{"field":"t","type":"quantitative","scale":{"domain":[6,22],"nice":false,"zero":false},"axis":{"orient":"left","values":[6,8,10,12,14,16,18,20,22],"labelPadding":14,"labelExpr":"datum.value % 4 == 2 ? datum.label : ''","title":null}},
    "fill":{"datum":"Wembury surfer (N=63)","type":"nominal","scale":{"domain":["Wembury surfer (N=63)","Wembury satellite (N=60)"],"range":["#404040","#dcdcdc"]},"legend":{"orient":"none","legendX":129,"legendY":148,"title":null,"labelFontSize":16.5,"padding":6,"symbolSize":90,"rowPadding":3,"labelOffset":5,"symbolOffset":8}},
    "stroke":{"datum":"Wembury surfer (N=63)","type":"nominal","scale":{"domain":["Wembury surfer (N=63)","Wembury satellite (N=60)"],"range":["#111111","#000000"]},"legend":{"orient":"none","legendX":129,"legendY":148,"title":null,"labelFontSize":16.5,"padding":6,"symbolSize":90,"rowPadding":3,"labelOffset":5,"symbolOffset":8}},
    "shape":{"datum":"Wembury surfer (N=63)","type":"nominal","scale":{"domain":["Wembury surfer (N=63)","Wembury satellite (N=60)"],"range":["circle","square"]},"legend":{"orient":"none","legendX":129,"legendY":148,"title":null,"labelFontSize":16.5,"padding":6,"symbolSize":90,"rowPadding":3,"labelOffset":5,"symbolOffset":8}}
   }},
  {"data":{"name":"wsat"},
   "mark":{"type":"point","filled":true,"size":60,"opacity":1,"strokeWidth":1,"clip":true},
   "encoding":{
    "x":{"field":"d","type":"quantitative","axis":{"orient":"top","values":[0,25,50,75,100,125,150,175,200,225,250,275,300,325,350],"labels":false,"title":null}},
    "y":{"field":"t","type":"quantitative","axis":{"orient":"right","values":[6,8,10,12,14,16,18,20,22],"labels":false,"title":null}},
    "fill":{"datum":"Wembury satellite (N=60)","type":"nominal"},
    "stroke":{"datum":"Wembury satellite (N=60)","type":"nominal"},
    "shape":{"datum":"Wembury satellite (N=60)","type":"nominal"}
   }},
  {"data":{"values":[{}]},
   "mark":{"type":"text","text":"(e)","fontSize":31,"align":"left","baseline":"alphabetic","color":"black"},
   "encoding":{"x":{"datum":9.3,"type":"quantitative","axis":null},"y":{"datum":19.7,"type":"quantitative","axis":null}}}
 ]},
{"width":269,"height":199,
 "resolve":{"axis":{"x":"independent","y":"independent"}},
 "layer":[
  {"data":{"name":"fpts"},
   "mark":{"type":"point","filled":true,"size":80,"opacity":1,"strokeWidth":1,"fill":"#c8c8c8","stroke":"#555555","clip":true},
   "encoding":{
    "x":{"field":"x","type":"quantitative","scale":{"domain":[6,22],"nice":false,"zero":false},"axis":{"orient":"bottom","values":[6,8,10,12,14,16,18,20,22],"labelPadding":17,"labelExpr":"datum.value % 4 == 2 ? datum.label : ''","title":"SST [°C]","titleFontSize":24,"titlePadding":2}},
    "y":{"field":"y","type":"quantitative","scale":{"domain":[6,22],"nice":false,"zero":false},"axis":{"orient":"left","values":[6,8,10,12,14,16,18,20,22],"labels":false,"title":null}}
   }},
  {"data":{"values":[{}]},
   "mark":{"type":"rule","color":"black","strokeWidth":1.3},
   "encoding":{"x":{"datum":6,"type":"quantitative","axis":{"orient":"top","values":[6,8,10,12,14,16,18,20,22],"labels":false,"title":null}},"y":{"datum":6,"type":"quantitative","axis":{"orient":"right","values":[6,8,10,12,14,16,18,20,22],"labels":false,"title":null}},"x2":{"datum":22},"y2":{"datum":22}}},
  {"data":{"values":[{}]},
   "mark":{"type":"text","text":["r² = 0.87","Ψ = 1.37","Δ = 1.10","δ = -0.81","S = 0.91","I = 0.54","N =  10"],"fontSize":15,"lineHeight":15.2,"align":"left","baseline":"alphabetic","color":"black"},
   "encoding":{"x":{"datum":6.08,"type":"quantitative","axis":null},"y":{"datum":20.8,"type":"quantitative","axis":null}}},
  {"data":{"values":[{}]},
   "mark":{"type":"text","text":"(f)","fontSize":31,"align":"right","baseline":"alphabetic","color":"black"},
   "encoding":{"x":{"datum":21.76,"type":"quantitative","axis":null},"y":{"datum":19.7,"type":"quantitative","axis":null}}},
  {"data":{"values":[{}]},
   "mark":{"type":"text","text":["x = Wembury surfer","y = Wembury satellite"],"fontSize":16,"lineHeight":15,"align":"left","baseline":"alphabetic","color":"black"},
   "encoding":{"x":{"datum":12.32,"type":"quantitative","axis":null},"y":{"datum":7.69,"type":"quantitative","axis":null}}}
 ]}
]
}
